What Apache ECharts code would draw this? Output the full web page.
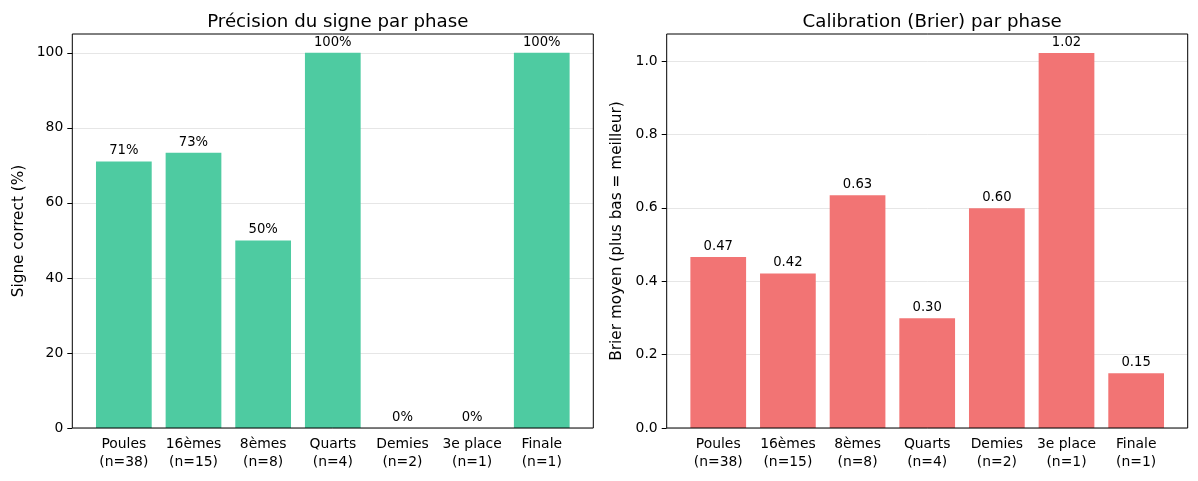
<!DOCTYPE html>
<html lang="fr" style="height: 100%">
<head>
  <meta charset="utf-8">
</head>
<body style="height: 100%; margin: 0; background: #fff">
  <div id="container" style="width: 1198px; height: 481px"></div>

  <script type="text/javascript" src="https://cdn.jsdelivr.net/npm/echarts@6/dist/echarts.min.js"></script>

  <script type="text/javascript">
// données
const phases = ['Poules', '16èmes', '8èmes', 'Quarts', 'Demies', '3e place', 'Finale'];
const counts = [38, 15, 8, 4, 2, 1, 1];
const precision = [71.05, 73.33, 50, 100, 0, 0, 100];
const brier = [0.466, 0.421, 0.634, 0.299, 0.599, 1.022, 0.149];
const precisionTicks = [0, 20, 40, 60, 80, 100];
const brierTicks = [0, 0.2, 0.4, 0.6, 0.8, 1.0];

const FONT = 'DejaVu Sans';
const categories = phases.map((p, i) => p + '\n(n=' + counts[i] + ')');

// geometry of the matplotlib axes
const TOP = 34, HEIGHT = 394, W = 521;
const unit = W / 7.48;            // x range -0.74 .. 6.74
const innerOff = 0.24 * unit;
const innerW = 7 * unit;
const lefts = [72.3, 666.7];

var dom = document.getElementById('container');
var myChart = echarts.init(dom, null, { renderer: 'canvas' });

function panel(idx, name, ymax, ticks, fmtTick, fmtBar, color, data, nameGap) {
  const g0 = idx * 2, g1 = idx * 2 + 1;
  return {
    grids: [
      { left: lefts[idx], top: TOP, width: W, height: HEIGHT, show: true,
        borderColor: '#000', borderWidth: 1, backgroundColor: 'transparent', z: 3 },
      { left: lefts[idx] + innerOff, top: TOP, width: innerW, height: HEIGHT }
    ],
    xAxes: [
      { type: 'value', gridIndex: g0, show: false, min: 0, max: 1 },
      { type: 'category', gridIndex: g1, data: categories,
        axisLine: { show: false },
        axisTick: { alignWithLabel: true, length: 5, lineStyle: { color: '#000' } },
        axisLabel: { color: '#000', fontFamily: FONT, fontSize: 13.9, lineHeight: 18, margin: 7, interval: 0 } }
    ],
    yAxes: [
      { type: 'value', gridIndex: g0, min: 0, max: ymax,
        name: name, nameLocation: 'middle', nameGap: nameGap,
        nameTextStyle: { color: '#000', fontFamily: FONT, fontSize: 15.3 },
        axisLine: { show: false },
        axisTick: { show: true, length: 5, customValues: ticks, lineStyle: { color: '#000' } },
        axisLabel: { color: '#000', fontFamily: FONT, fontSize: 13.9, margin: 9,
          customValues: ticks, formatter: fmtTick },
        splitLine: { show: true, lineStyle: { color: '#e6e6e6', width: 1 } } },
      { type: 'value', gridIndex: g1, min: 0, max: ymax, show: false, splitLine: { show: false } }
    ],
    series: {
      type: 'bar', xAxisIndex: g1, yAxisIndex: g1, data: data,
      barWidth: '80%', itemStyle: { color: color },
      label: { show: true, position: 'top', distance: 4, color: '#000',
        fontFamily: FONT, fontSize: 13.2, formatter: p => fmtBar(p.value) }
    }
  };
}

const left = panel(0, 'Signe correct (%)', 105, precisionTicks,
  v => String(Math.round(v)), v => Math.round(v) + '%', '#4ecba1', precision, 46);
const right = panel(1, 'Brier moyen (plus bas = meilleur)', 1.0736, brierTicks,
  v => v.toFixed(1), v => v.toFixed(2), '#f27474', brier, 42);

var option = {
  animation: false,
  textStyle: { fontFamily: FONT },
  title: [
    { text: 'Précision du signe par phase', left: lefts[0] + W / 2, top: 8, textAlign: 'center',
      textStyle: { fontFamily: FONT, fontSize: 18.2, fontWeight: 'normal', color: '#000' } },
    { text: 'Calibration (Brier) par phase', left: lefts[1] + W / 2, top: 8, textAlign: 'center',
      textStyle: { fontFamily: FONT, fontSize: 18.2, fontWeight: 'normal', color: '#000' } }
  ],
  grid: left.grids.concat(right.grids),
  xAxis: left.xAxes.concat(right.xAxes),
  yAxis: left.yAxes.concat(right.yAxes),
  series: [left.series, right.series]
};

myChart.setOption(option);
window.addEventListener('resize', myChart.resize);
  </script>
</body>
</html>
